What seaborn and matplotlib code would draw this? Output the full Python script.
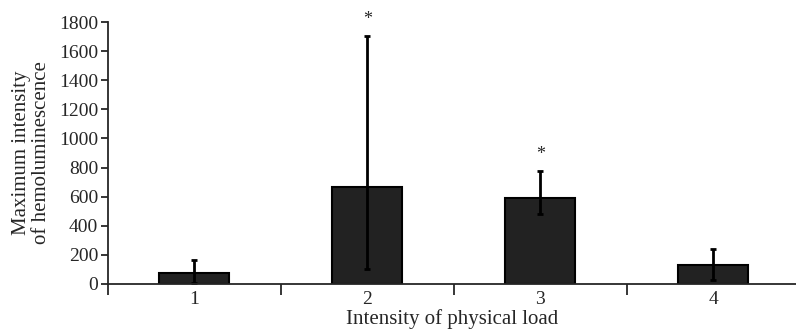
import numpy as np
import pandas as pd
import matplotlib
matplotlib.use("Agg")
import matplotlib.pyplot as plt
import seaborn as sns

# data
loads = ["1", "2", "3", "4"]
means = [78, 664, 589, 130]
err_low = [68, 563, 108, 103]
err_high = [87, 1040, 187, 108]
marked = [False, True, True, False]

sns.set_style("ticks")
plt.rcParams["font.family"] = ["Liberation Serif", "DejaVu Serif"]
plt.rcParams["font.size"] = 14

df = pd.DataFrame({"load": loads, "value": means})

fig = plt.figure(figsize=(7.96, 3.32), dpi=100)
ax = fig.add_axes([0.1357, 0.1446, 0.8643, 0.7891])

sns.barplot(data=df, x="load", y="value", color="#222222", edgecolor="black",
            linewidth=1.5, width=0.405, saturation=1, errorbar=None, ax=ax)

xpos = np.arange(len(loads))
ax.errorbar(xpos, means, yerr=[err_low, err_high], fmt="none", ecolor="black",
            elinewidth=2, capsize=2, capthick=2)

for x, m, e, star in zip(xpos, means, err_high, marked):
    if star:
        ax.annotate("*", (x, m + e), xytext=(0, 6), textcoords="offset points",
                    ha="center", va="bottom", fontsize=13, annotation_clip=False)

ax.set_xlim(-0.5, 3.48)
ax.set_ylim(0, 1800)
ax.set_yticks(range(0, 1801, 200))
ax.set_xlabel("Intensity of physical load", fontsize=15, labelpad=1)
ax.set_ylabel("Maximum intensity\nof hemoluminescence", fontsize=15,
              labelpad=6, linespacing=1.05)

sns.despine(ax=ax)
ax.spines["left"].set_bounds(0, 1800)
ax.spines["bottom"].set_linewidth(1.3)
ax.spines["left"].set_linewidth(1.3)

ax.tick_params(axis="x", which="major", length=0, pad=5)
ax.set_xticks([-0.5, 0.5, 1.5, 2.5], minor=True)
ax.tick_params(axis="x", which="minor", direction="out", length=8, width=1.3)
ax.tick_params(axis="y", direction="out", length=5, width=1.3, pad=2)

fig.savefig("out.png", dpi=100)
